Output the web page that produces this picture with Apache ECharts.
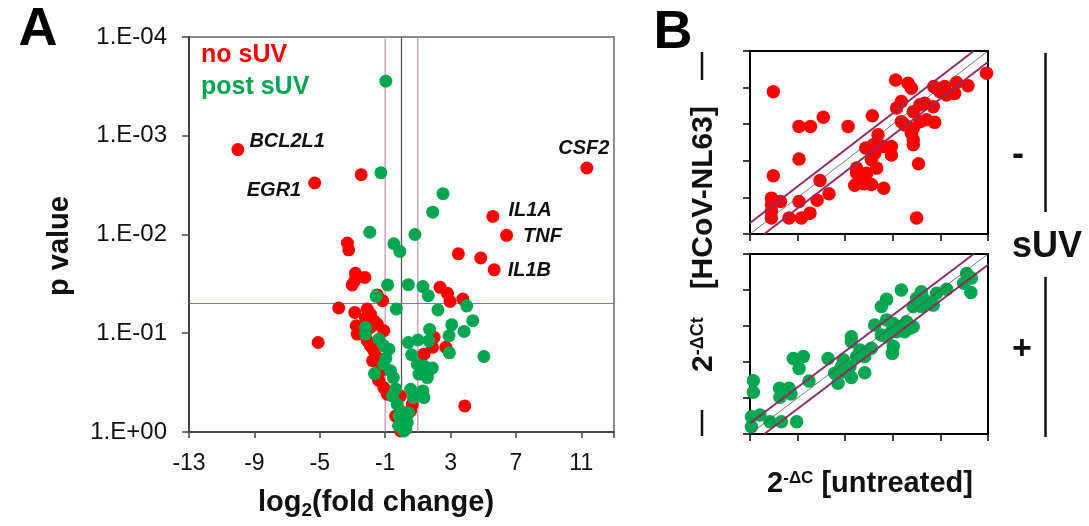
<!DOCTYPE html>
<html><head><meta charset="utf-8">
<script src="https://cdn.jsdelivr.net/npm/echarts@6/dist/echarts.min.js"></script>
<style>html,body{margin:0;padding:0;background:#fff}#c{width:1089px;height:526px}</style>
</head><body><div id="c"></div>
<script>
// ---------- Panel A: volcano plot ----------
const volcanoXTicks = [-13, -9, -5, -1, 3, 7, 11];
const volcanoYTickLabels = ['1.E-04', '1.E-03', '1.E-02', '1.E-01', '1.E+00'];
// [log2 fold change, p value]
const noSuv = [
[-2.47,2.48e-3],[3.48,1.57e-2],[4.85,1.73e-2],[-3.31,1.22e-2],[-3.23,1.43e-2],[-2.82,2.47e-2],[-2.24,2.72e-2],
[-3.02,3.24e-2],[-2.86,2.93e-2],[2.36,3.43e-2],[2.81,3.94e-2],[2.97,4.75e-2],[3.75,4.50e-2],[-1.48,4.09e-2],
[-1.16,4.68e-2],[-3.84,5.55e-2],[-2.86,6.15e-2],[-2.10,5.68e-2],[-1.90,6.38e-2],[-2.20,7.01e-2],[-1.69,7.46e-2],
[-1.48,8.07e-2],[-1.90,8.73e-2],[-2.77,8.39e-2],[-2.71,0.102],[-1.08,9.44e-2],[-5.10,0.124],[-2.10,0.119],
[-1.90,0.134],[-1.69,0.151],[-1.48,0.176],[1.99,0.110],[1.89,0.139],[2.71,0.139],[1.37,0.163],[-1.08,0.355],
[-0.87,0.414],[-0.06,0.431],[0.66,0.524],[1.58,0.259],[3.87,0.545],[-0.06,0.977],[-1.28,0.24],[-1.40,0.30],
[-1.77,0.19],[-0.36,0.69],[0.25,0.77],[0.56,0.61]
];
const postSuv = [
[-0.96,2.80e-4],[-1.26,2.37e-3],[2.54,3.86e-3],[1.91,5.94e-3],[-1.94,9.49e-3],[0.82,1.0e-2],[-0.47,1.24e-2],
[-0.10,1.48e-2],[-0.85,3.24e-2],[0.42,3.22e-2],[1.31,3.37e-2],[1.64,4.16e-2],[-1.55,4.23e-2],[-0.32,5.68e-2],
[2.23,5.81e-2],[3.99,5.30e-2],[4.36,7.46e-2],[3.07,8.20e-2],[2.91,0.106],[3.83,9.59e-2],[1.72,9.14e-2],
[1.68,0.119],[1.01,0.117],[0.42,0.124],[-2.20,8.73e-2],[-2.20,0.102],[-1.39,0.115],[-1.08,0.134],[-0.77,0.145],
[2.93,0.158],[5.04,0.172],[0.62,0.165],[0.97,0.206],[1.37,0.214],[1.89,0.225],[1.07,0.259],[1.58,0.281],
[-1.65,0.256],[-1.08,0.206],[-0.67,0.240],[-0.50,0.281],[0.56,0.369],[1.31,0.384],[1.37,0.449],[0.72,0.449],
[-0.56,0.431],[-0.26,0.524],[-0.06,0.612],[0.15,0.716],[0.05,0.836],[0.15,0.977],[0.35,0.805],[-0.16,0.689],
[-0.18,0.87],[0.27,0.93],[0.44,0.64],[-0.96,0.18],[-0.36,0.366]
];
const geneNames = ['BCL2L1', 'EGR1', 'CSF2', 'IL1A', 'TNF', 'IL1B'];
const geneLog2FC = [-10.01, -5.31, 11.34, 5.59, 6.43, 5.67];
const geneP = [1.38e-3, 3.01e-3, 2.12e-3, 6.56e-3, 1.02e-2, 2.28e-2];
const foldThresholds = [-1, 0, 1];
const pThreshold = 0.05;
const volcanoXRange = [-13, 13];
const volcanoPRange = [1e-4, 1];

// ---------- Panel B: 2^-dCt scatter ----------
// [untreated, HCoV-NL63]
const bNoSuv = [
[0.49,3.89],[3.06,4.21],[3.32,4.12],[3.39,3.98],[4.97,4.39],[4.58,4.05],[4.34,4.14],[4.09,4.03],[3.92,3.98],
[3.99,3.89],[4.13,3.80],[4.30,3.84],[3.86,4.03],[3.18,3.62],[3.08,3.44],[3.43,3.34],[3.57,3.53],[3.67,3.57],
[3.85,3.48],[3.18,3.07],[3.25,2.98],[3.43,2.89],[3.39,2.75],[3.43,2.57],[3.43,2.44],[3.57,3.07],[3.71,3.12],
[3.88,3.05],[3.54,1.92],[3.50,0.44],[1.03,2.94],[1.27,2.94],[1.54,3.19],[2.06,2.94],[2.57,3.23],[1.03,2.05],
[0.49,1.59],[1.47,1.46],[1.66,1.10],[1.03,0.89],[1.41,0.92],[1.26,0.57],[1.08,0.44],[0.82,0.44],[0.45,0.98],
[0.45,0.80],[0.45,0.62],[0.45,0.44],[0.64,0.89],[2.43,2.35],[2.59,2.44],[2.69,2.71],[2.80,2.39],[2.97,2.39],
[2.97,2.16],[2.62,2.21],[2.55,2.03],[2.66,1.80],[2.24,1.80],[2.24,1.66],[2.45,1.66],[2.55,1.35],[2.20,1.33],
[2.39,1.37],[2.81,1.25]
];
const bPostSuv = [
[4.55,4.46],[4.65,4.33],[4.64,3.93],[4.49,4.19],[4.13,4.02],[3.92,3.91],[3.60,3.95],[3.50,3.77],[3.67,3.72],
[3.81,3.63],[3.43,3.54],[3.60,3.54],[3.85,3.58],[3.18,4.00],[2.87,3.74],[2.76,3.54],[2.62,3.03],[2.87,3.17],
[3.01,3.07],[3.15,2.98],[3.29,3.12],[3.43,2.98],[3.08,2.84],[2.87,2.70],[2.76,2.75],[2.97,2.84],[3.25,2.84],
[3.36,2.94],[3.01,2.44],[2.99,2.24],[2.13,2.70],[2.13,2.56],[2.31,2.33],[2.55,2.38],[2.24,2.15],[2.41,2.15],
[1.96,2.06],[2.10,1.87],[1.92,1.87],[1.64,2.10],[1.78,1.69],[1.85,1.41],[2.13,1.57],[2.41,1.70],[1.96,1.73],
[0.91,2.10],[1.12,2.15],[1.03,1.82],[1.24,1.47],[0.62,1.27],[0.82,1.27],[0.63,1.02],[0.86,1.11],[0.07,1.48],
[0.07,1.16],[0.03,0.48],[0.21,0.53],[0.03,0.20],[0.42,0.34],[0.66,0.34],[0.98,0.34]
];
const identityLine = [[0, 0], [5, 5]];
const upperFoldLine = [[0, 0.3], [4.7, 5]];
const lowerFoldLine = [[0.3, 0], [5, 4.7]];

// ---------- styling ----------
const FONT = '"Liberation Sans", Arial, sans-serif';
const RED = '#FF0000';
const GREEN = '#00A650';
const PURPLE = '#8E2C63';
const geneLabelPlacement = {
  BCL2L1: { position: 'right', offset: [0, -8] },
  EGR1:   { position: 'left',  offset: [-2, 7] },
  CSF2:   { position: 'top',   offset: [-3, 2] },
  IL1A:   { position: 'right', offset: [4, -6] },
  TNF:    { position: 'right', offset: [5, 1] },
  IL1B:   { position: 'right', offset: [2, 1] }
};

const chart = echarts.init(document.getElementById('c'), null, { renderer: 'canvas' });

const bAxis = (gi) => ({
  gridIndex: gi, type: 'value', min: 0, max: 5, interval: 1,
  axisLine: { show: true, onZero: false, lineStyle: { color: '#000', width: 2 } },
  axisTick: { show: true, inside: false, length: 7, lineStyle: { color: '#000', width: 1.5 } },
  axisLabel: { show: false }, splitLine: { show: false }
});
const refLine = (idx, data, color, width, z) => ({
  type: 'line', xAxisIndex: idx, yAxisIndex: idx, data, symbol: 'none', silent: true, z,
  lineStyle: { color, width }, emphasis: { disabled: true }
});

const option = {
  animation: false,
  backgroundColor: '#fff',
  textStyle: { fontFamily: FONT },
  grid: [
    { left: 189, top: 37, width: 425, height: 395, show: true, borderColor: '#8c8c8c', borderWidth: 2, outerBoundsMode: 'none', containLabel: false },
    { left: 750, top: 51, width: 238, height: 183, show: true, borderColor: '#000', borderWidth: 2, outerBoundsMode: 'none', containLabel: false },
    { left: 750, top: 254, width: 238, height: 180, show: true, borderColor: '#000', borderWidth: 2, outerBoundsMode: 'none', containLabel: false }
  ],
  xAxis: [
    {
      gridIndex: 0, type: 'value', min: volcanoXRange[0], max: volcanoXRange[1], interval: 4,
      axisLine: { show: true, onZero: false, lineStyle: { color: '#444', width: 2 } },
      axisTick: { show: true, inside: false, length: 6, lineStyle: { color: '#444', width: 1.5 } },
      axisLabel: {
        show: true, margin: 20, fontSize: 23, color: '#111', fontFamily: FONT,
        formatter: v => volcanoXTicks.indexOf(v) >= 0 ? String(v) : ''
      },
      splitLine: { show: false }
    },
    bAxis(1), bAxis(2)
  ],
  yAxis: [
    {
      gridIndex: 0, type: 'log', logBase: 10, min: volcanoPRange[0], max: volcanoPRange[1], inverse: true,
      axisLine: { show: true, onZero: false, lineStyle: { color: '#444', width: 2 } },
      axisTick: { show: true, inside: false, length: 7, lineStyle: { color: '#444', width: 1.5 } },
      axisLabel: {
        show: true, margin: 22, fontSize: 24, color: '#111', fontFamily: FONT,
        formatter: v => volcanoYTickLabels[Math.round(4 + Math.log10(v))] || ''
      },
      splitLine: { show: false }, minorTick: { show: false }
    },
    bAxis(1), bAxis(2)
  ],
  series: [
    refLine(0, [[foldThresholds[0], volcanoPRange[0]], [foldThresholds[0], volcanoPRange[1]]], '#C0739E', 1, 1),
    refLine(0, [[foldThresholds[1], volcanoPRange[0]], [foldThresholds[1], volcanoPRange[1]]], '#555555', 1.3, 1),
    refLine(0, [[foldThresholds[2], volcanoPRange[0]], [foldThresholds[2], volcanoPRange[1]]], '#C0739E', 1, 1),
    refLine(0, [[volcanoXRange[0], pThreshold], [volcanoXRange[1], pThreshold]], '#7070F0', 1.2, 1),
    {
      type: 'scatter', name: 'no sUV', xAxisIndex: 0, yAxisIndex: 0, data: noSuv,
      symbolSize: 13, itemStyle: { color: RED, opacity: 1 }, z: 2, emphasis: { disabled: true }
    },
    {
      type: 'scatter', name: 'no sUV genes', xAxisIndex: 0, yAxisIndex: 0,
      data: geneNames.map((n, i) => ({
        name: n, value: [geneLog2FC[i], geneP[i]],
        label: { position: geneLabelPlacement[n].position, offset: geneLabelPlacement[n].offset }
      })),
      symbolSize: 13, itemStyle: { color: RED, opacity: 1 }, z: 2, emphasis: { disabled: true },
      label: {
        show: true, formatter: p => p.name, fontSize: 20, fontWeight: 'bold', fontStyle: 'italic',
        color: '#111', fontFamily: FONT
      }
    },
    {
      type: 'scatter', name: 'post sUV', xAxisIndex: 0, yAxisIndex: 0, data: postSuv,
      symbolSize: 13, itemStyle: { color: GREEN, opacity: 1 }, z: 3, emphasis: { disabled: true }
    },
    {
      type: 'scatter', name: 'B no sUV', xAxisIndex: 1, yAxisIndex: 1, data: bNoSuv,
      symbolSize: 13.5, itemStyle: { color: RED, opacity: 1 }, z: 2, emphasis: { disabled: true }
    },
    refLine(1, identityLine, '#555', 0.8, 4),
    refLine(1, upperFoldLine, PURPLE, 2, 4),
    refLine(1, lowerFoldLine, PURPLE, 2, 4),
    {
      type: 'scatter', name: 'B post sUV', xAxisIndex: 2, yAxisIndex: 2, data: bPostSuv,
      symbolSize: 13.5, itemStyle: { color: GREEN, opacity: 1 }, z: 2, emphasis: { disabled: true }
    },
    refLine(2, identityLine, '#555', 0.8, 4),
    refLine(2, upperFoldLine, PURPLE, 2, 4),
    refLine(2, lowerFoldLine, PURPLE, 2, 4)
  ],
  graphic: [
    { type: 'text', x: 38, y: 30, style: { text: 'A', font: 'bold 54px ' + FONT, fill: '#000', align: 'center', verticalAlign: 'middle' } },
    { type: 'text', x: 673, y: 33, style: { text: 'B', font: 'bold 54px ' + FONT, fill: '#000', align: 'center', verticalAlign: 'middle' } },
    { type: 'text', x: 201, y: 55, style: { text: 'no sUV', font: 'bold 25px ' + FONT, fill: RED, align: 'left', verticalAlign: 'middle' } },
    { type: 'text', x: 201, y: 87, style: { text: 'post sUV', font: 'bold 25px ' + FONT, fill: GREEN, align: 'left', verticalAlign: 'middle' } },
    { type: 'text', x: 60, y: 246, rotation: Math.PI / 2,
      style: { text: 'p value', font: 'bold 29px ' + FONT, fill: '#111', align: 'center', verticalAlign: 'middle' } },
    { type: 'text', x: 376, y: 503,
      style: {
        text: '{m|log}{s|2}{m|(fold change)}', align: 'center', verticalAlign: 'middle', fill: '#111',
        rich: {
          m: { font: 'bold 29px ' + FONT, fill: '#111' },
          s: { font: 'bold 19px ' + FONT, fill: '#111', verticalAlign: 'bottom', padding: [16, 0, 0, 0] }
        }
      } },
    { type: 'text', x: 870, y: 484,
      style: {
        text: '{m|2}{s|-ΔC}{m| [untreated]}', align: 'center', verticalAlign: 'middle', fill: '#111',
        rich: {
          m: { font: 'bold 29px ' + FONT, fill: '#111', verticalAlign: 'bottom' },
          s: { font: 'bold 17px ' + FONT, fill: '#111', verticalAlign: 'top' }
        }
      } },
    { type: 'text', x: 704, y: 239, rotation: Math.PI / 2,
      style: {
        text: '{m|2}{s|-ΔCt}{g|}{m|[HCoV-NL63]}', align: 'center', verticalAlign: 'middle', fill: '#111',
        rich: {
          m: { font: 'bold 30px ' + FONT, fill: '#111', verticalAlign: 'bottom' },
          s: { font: 'bold 18px ' + FONT, fill: '#111', verticalAlign: 'top' },
          g: { width: 28 }
        }
      } },
    { type: 'line', shape: { x1: 702, y1: 52, x2: 702, y2: 80 }, style: { stroke: '#111', lineWidth: 2.5 } },
    { type: 'line', shape: { x1: 702, y1: 410, x2: 702, y2: 436 }, style: { stroke: '#111', lineWidth: 2.5 } },
    { type: 'text', x: 1018, y: 155, style: { text: '-', font: 'bold 36px ' + FONT, fill: '#111', align: 'center', verticalAlign: 'middle' } },
    { type: 'text', x: 1047, y: 247, style: { text: 'sUV', font: 'bold 36px ' + FONT, fill: '#111', align: 'center', verticalAlign: 'middle' } },
    { type: 'text', x: 1022, y: 350, style: { text: '+', font: 'bold 34px ' + FONT, fill: '#111', align: 'center', verticalAlign: 'middle' } },
    { type: 'line', shape: { x1: 1045.5, y1: 53, x2: 1045.5, y2: 212 }, style: { stroke: '#111', lineWidth: 2.5 } },
    { type: 'line', shape: { x1: 1045.5, y1: 277, x2: 1045.5, y2: 437 }, style: { stroke: '#111', lineWidth: 2.5 } }
  ]
};
chart.setOption(option);
</script>
</body></html>
